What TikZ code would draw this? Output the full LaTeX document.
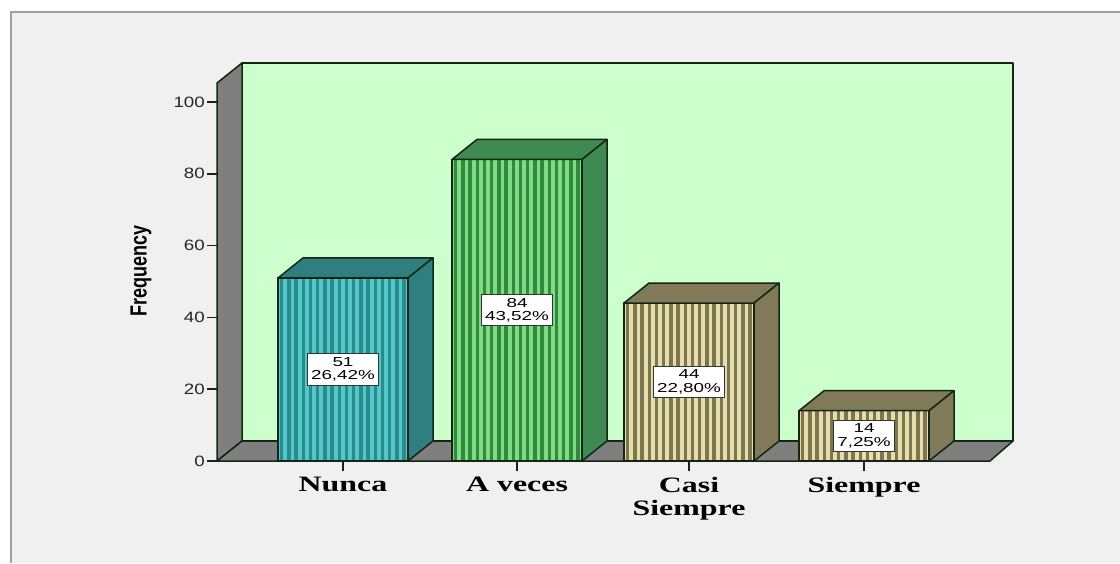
\documentclass[tikz,border=0pt]{standalone}
\usepackage{fontspec}
\setmainfont{Liberation Serif}
\setsansfont{Liberation Sans}

\definecolor{panelbg}{HTML}{F0F0F0}
\definecolor{framegray}{HTML}{A0A0A0}
\definecolor{wallgreen}{HTML}{CCFFCC}
\definecolor{wallgray}{HTML}{7F7F7F}
\definecolor{edgeline}{HTML}{152515}
\definecolor{tealtop}{HTML}{2F7E80}
\definecolor{teallight}{HTML}{52C8C8}
\definecolor{tealdark}{HTML}{2A8A8C}
\definecolor{greentop}{HTML}{3F8A50}
\definecolor{greenlight}{HTML}{82DA82}
\definecolor{greendark}{HTML}{2E8A3E}
\definecolor{khakitop}{HTML}{807A58}
\definecolor{khakilight}{HTML}{E6DDAA}
\definecolor{khakidark}{HTML}{7C7650}

\newcommand{\sx}[1]{\scalebox{1.45}[1]{#1}}
\newcommand{\sxt}[1]{\scalebox{1.25}[1]{#1}}

\begin{document}
\begin{tikzpicture}[x=1pt,y=1pt,yscale=-1,xscale=1,
  wall/.style={fill=wallgray,draw=edgeline,line width=1.5pt,line join=round},
  face/.style={draw=edgeline,line width=1.5pt,line join=round},
  valbox/.style={fill=white,draw=black!80,line width=1pt,inner xsep=4pt,inner ysep=3.5pt,align=center,font=\sffamily\fontsize{13}{13.5}\selectfont},
  catlab/.style={anchor=north,inner sep=0pt,align=center,font=\bfseries\fontsize{22}{23}\selectfont},
  ticklab/.style={anchor=east,inner sep=0pt,font=\sffamily\fontsize{15}{15}\selectfont,text=black!85}]
\useasboundingbox (0,0) rectangle (1120,563);
% page and panel
\fill[white] (0,0) rectangle (1120,563);
\fill[panelbg] (11,12) rectangle (1120,563);
\draw[framegray,line width=1.5pt] (11,563) -- (11,12) -- (1120,12);
% walls and floor
\draw[face,fill=wallgreen] (242,63) rectangle (1013,441);
\draw[wall] (217,83) -- (242,63) -- (242,441) -- (217,461) -- cycle;
\draw[wall] (217,461) -- (242,441) -- (1013,441) -- (990,461) -- cycle;
% bars
\foreach \nm/\xa/\val/\pc/\tp/\lt/\dk in {Nunca/278/51/{26,42}/tealtop/teallight/tealdark,
    Aveces/452/84/{43,52}/greentop/greenlight/greendark,
    Casi/624/44/{22,80}/khakitop/khakilight/khakidark,
    Siempre/799/14/{7,25}/khakitop/khakilight/khakidark}
{
  \pgfmathsetmacro{\yt}{461-3.59*\val}
  \pgfmathsetmacro{\xb}{\xa+130}
  \begin{scope}
    \clip (\xa,\yt) rectangle (\xb,461);
    \fill[\lt] (\xa,\yt) rectangle (\xb,461);
    \foreach \s in {0,...,17}
      \draw[\dk,line width=3.4pt] ({\xa+3.6+7.2*\s},\yt) -- ({\xa+3.6+7.2*\s},461);
  \end{scope}
  \draw[face] (\xa,\yt) rectangle (\xb,461);
  \draw[face,fill=\tp] (\xa,\yt) -- ++(25,-20) -- ++(130,0) -- (\xb,\yt) -- cycle;
  \draw[face,fill=\tp] (\xb,\yt) -- ++(25,-20) -- ({\xb+25},441) -- (\xb,461) -- cycle;
  \node[valbox] (val\nm) at ({\xa+65},{(\yt+461)/2}) {\sx{\val}\\\sx{\pc\%}};
}
% y axis ticks
\foreach \v in {0,20,...,100}
{
  \draw[edgeline,line width=1.5pt] (207,{461-3.59*\v}) -- (217,{461-3.59*\v});
  \node[ticklab] (tick\v) at (205,{461-3.59*\v}) {\sxt{\v}};
}
\node[rotate=90,font=\sffamily\bfseries\fontsize{18}{18}\selectfont] (ylab) at (141,271) {\scalebox{1}[1.3]{Frequency}};
% x axis ticks and labels
\foreach \cx in {343,517,689,864}
  \draw[edgeline,line width=1.5pt] (\cx,461) -- (\cx,471);
\node[catlab] (catNunca) at (343,477) {\sx{Nunca}};
\node[catlab] (catAveces) at (517,477) {\sx{A veces}};
\node[catlab] (catCasi) at (689,477) {\sx{Casi}\\\sx{Siempre}};
\node[catlab] (catSiempre) at (864,477) {\sx{Siempre}};
\end{tikzpicture}
\end{document}
